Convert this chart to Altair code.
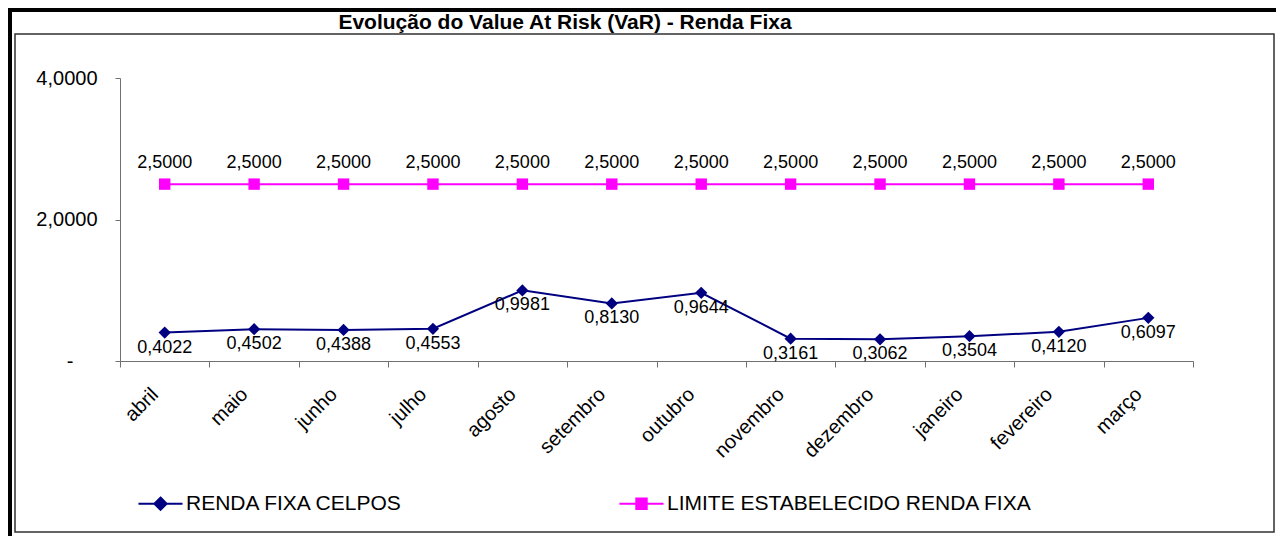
import altair as alt
import pandas as pd

# ---------------- data ----------------
months = ["abril", "maio", "junho", "julho", "agosto", "setembro",
          "outubro", "novembro", "dezembro", "janeiro", "fevereiro", "março"]
renda_fixa_celpos = [0.4022, 0.4502, 0.4388, 0.4553, 0.9981, 0.8130,
                     0.9644, 0.3161, 0.3062, 0.3504, 0.4120, 0.6097]
limite_estabelecido = [2.5000, 2.5000, 2.5000, 2.5000, 2.5000, 2.5000,
                       2.5000, 2.5000, 2.5000, 2.5000, 2.5000, 2.5000]
series = ["RENDA FIXA CELPOS", "LIMITE ESTABELECIDO RENDA FIXA"]
colors = ["#000080", "#FF00FF"]
y_tick_values = [0, 2, 4]
chart_title = "Evolução do Value At Risk (VaR) - Renda Fixa"

rows = []
for m, v in zip(months, renda_fixa_celpos):
    rows.append({"mes": m, "serie": series[0], "valor": v})
for m, v in zip(months, limite_estabelecido):
    rows.append({"mes": m, "serie": series[1], "valor": v})
df = pd.DataFrame(rows)

FONT = "Liberation Sans"
W, H = 1073, 283
AXIS_GRAY = "#707070"

x_enc = alt.X(
    "mes:N",
    scale=alt.Scale(type="band", domain=months, paddingInner=0, paddingOuter=0),
    axis=alt.Axis(title=None, labelAngle=-45, labelAlign="right", labelBaseline="middle",
                  labelPadding=24, labelOffset=-10, labelFontSize=20, labelFont=FONT,
                  labelColor="black", tickBand="extent", tickSize=6, tickColor=AXIS_GRAY,
                  domainColor=AXIS_GRAY, grid=False),
)
y_enc = alt.Y(
    "valor:Q",
    scale=alt.Scale(domain=[0, 4], nice=False, zero=True),
    axis=alt.Axis(title=None, values=y_tick_values, grid=False,
                  labelExpr="datum.value == 0 ? '-' : replace(format(datum.value, '.4f'), '.', ',')",
                  labelFontSize=20, labelFont=FONT, labelColor="black",
                  labelPadding={"condition": {"test": "datum.value == 0", "value": 42}, "value": 18},
                  tickSize=5, tickColor=AXIS_GRAY, domainColor=AXIS_GRAY),
)

base = alt.Chart(df).transform_calculate(
    rotulo="replace(format(datum.valor, '.4f'), '.', ',')"
)

layers = []

# decorations: outer frame, inner box, title
deco = alt.Chart(alt.Data(values=[{"k": 0}]))
layers.append(deco.mark_rect(color="black").encode(
    x=alt.value(-112), x2=alt.value(-108), y=alt.value(-70), y2=alt.value(458)))
layers.append(deco.mark_rect(color="black").encode(
    x=alt.value(-112), x2=alt.value(1156), y=alt.value(-70), y2=alt.value(-66)))
layers.append(deco.mark_rect(fillOpacity=0, stroke="#303030", strokeWidth=1.5).encode(
    x=alt.value(-105), x2=alt.value(1154), y=alt.value(-44), y2=alt.value(454)))
layers.append(deco.mark_text(text=chart_title, font=FONT, fontSize=21, fontWeight="bold",
                             color="black", align="center", baseline="alphabetic").encode(
    x=alt.value(445), y=alt.value(-49)))

styles = [
    (series[0], colors[0], "diamond", 150, 15),
    (series[1], colors[1], "square", 130, -21),
]
for name, color, shape, size, label_dy in styles:
    b = base.transform_filter(alt.datum.serie == name)
    layers.append(b.mark_line(color=color, strokeWidth=2).encode(x=x_enc, y=y_enc))
    layers.append(b.mark_point(shape=shape, filled=True, color=color, size=size, opacity=1)
                  .encode(x=x_enc, y=y_enc))
    layers.append(b.mark_text(font=FONT, fontSize=18, color="black", dy=label_dy,
                              align="center", baseline="middle")
                  .encode(x=x_enc, y=y_enc, text="rotulo:N"))

# legend (invisible layer providing the legend)
diamond_path = "M-3.6,0L3.6,0M0,-1L1,0L0,1L-1,0Z"
square_path = "M-3.6,0L3.6,0M-0.85,-0.85L0.85,-0.85L0.85,0.85L-0.85,0.85Z"
leg = alt.Legend(title=None, orient="none", legendX=30, legendY=415, direction="horizontal",
                 symbolSize=150, symbolStrokeWidth=2, symbolOpacity=1,
                 labelFont=FONT, labelFontSize=21, labelColor="black", labelLimit=1000,
                 labelOffset=15, columnPadding=211, padding=0)
layers.append(
    alt.Chart(df).mark_point(filled=True, opacity=0).encode(
        x=x_enc, y=y_enc,
        fill=alt.Fill("serie:N", scale=alt.Scale(domain=series, range=colors), legend=leg),
        stroke=alt.Stroke("serie:N", scale=alt.Scale(domain=series, range=colors), legend=leg),
        shape=alt.Shape("serie:N", scale=alt.Scale(domain=series, range=[diamond_path, square_path]),
                        legend=leg),
    )
)

chart = alt.layer(*layers).properties(width=W, height=H, padding=0).configure_view(stroke=None)
chart.save("out.html", embed_options={"renderer": "svg", "actions": False})
